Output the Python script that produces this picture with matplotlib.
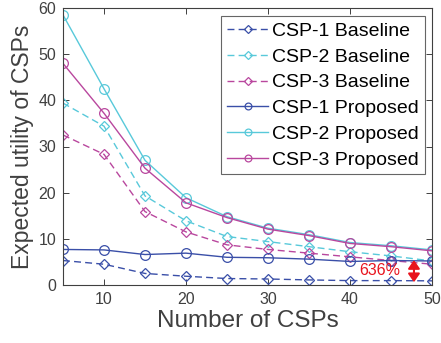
import matplotlib.pyplot as plt

plt.rcParams["font.family"] = ["Liberation Sans", "DejaVu Sans"]

num_csps = [5, 10, 15, 20, 25, 30, 35, 40, 45, 50]

csp1_baseline = [5.3, 4.5, 2.5, 1.9, 1.4, 1.3, 1.1, 0.95, 0.95, 0.9]
csp2_baseline = [39.4, 34.4, 19.3, 13.9, 10.5, 9.4, 8.3, 7.2, 6.3, 5.2]
csp3_baseline = [32.5, 28.3, 15.9, 11.5, 8.7, 7.7, 6.9, 6.1, 5.3, 4.5]
csp1_proposed = [7.7, 7.6, 6.6, 6.9, 6.0, 5.9, 5.6, 5.1, 5.3, 5.2]
csp2_proposed = [58.5, 42.5, 27.0, 18.9, 14.8, 12.3, 10.9, 9.2, 8.5, 7.6]
csp3_proposed = [48.0, 37.2, 25.3, 17.8, 14.6, 12.1, 10.7, 9.0, 8.3, 7.4]

series = [
    ("CSP-1 Baseline", csp1_baseline, "#3A4FA8", "--", "D"),
    ("CSP-2 Baseline", csp2_baseline, "#58C9DA", "--", "D"),
    ("CSP-3 Baseline", csp3_baseline, "#B9479E", "--", "D"),
    ("CSP-1 Proposed", csp1_proposed, "#3A4FA8", "-", "o"),
    ("CSP-2 Proposed", csp2_proposed, "#58C9DA", "-", "o"),
    ("CSP-3 Proposed", csp3_proposed, "#B9479E", "-", "o"),
]

fig = plt.figure(figsize=(4.41, 3.43), dpi=100)
ax = fig.add_axes([63 / 441, 1 - 285 / 343, (432 - 63) / 441, (285 - 8) / 343])

for label, values, color, linestyle, marker in series:
    ax.plot(
        num_csps,
        values,
        linestyle=linestyle,
        marker=marker,
        color=color,
        linewidth=1.0,
        markersize=7 if marker == "o" else 5.5,
        markerfacecolor="none",
        markeredgewidth=0.9,
        label=label,
        dashes=(5, 3) if linestyle == "--" else (None, None),
    )

# red double arrow marking the gap at N=45..50
ax.annotate(
    "",
    xy=(47.8, 0.6),
    xytext=(47.8, 5.4),
    arrowprops={
        "arrowstyle": "<|-|>,head_length=0.5,head_width=0.35",
        "color": "#E8141E",
        "lw": 1.5,
        "mutation_scale": 10,
        "shrinkA": 0,
        "shrinkB": 0,
    },
)
ax.text(43.6, 3.2, "636%", color="#E8141E", fontsize=11.5, ha="center", va="center")

ax.set_xlim(5, 50)
ax.set_ylim(0, 60)
ax.set_xticks([10, 20, 30, 40, 50])
ax.set_yticks([0, 10, 20, 30, 40, 50, 60])
ax.tick_params(
    direction="in", top=True, right=True, labelsize=11.5, colors="#404040",
    length=4, width=0.7, pad=5,
)
for spine in ax.spines.values():
    spine.set_color("#404040")
    spine.set_linewidth(0.8)
ax.set_xlabel("Number of CSPs", fontsize=17.5, color="#404040", labelpad=2)
ax.set_ylabel("Expected utility of CSPs", fontsize=16.5, color="#404040", labelpad=3)

legend = ax.legend(
    loc="upper right",
    bbox_to_anchor=(0.98, 0.97),
    fontsize=14,
    frameon=True,
    fancybox=False,
    edgecolor="#404040",
    handlelength=2.1,
    handletextpad=0.2,
    labelspacing=0.42,
    borderpad=0.3,
    borderaxespad=0.0,
    markerscale=0.7,
)
legend.get_frame().set_linewidth(0.8)

fig.savefig("out.png", dpi=100)
